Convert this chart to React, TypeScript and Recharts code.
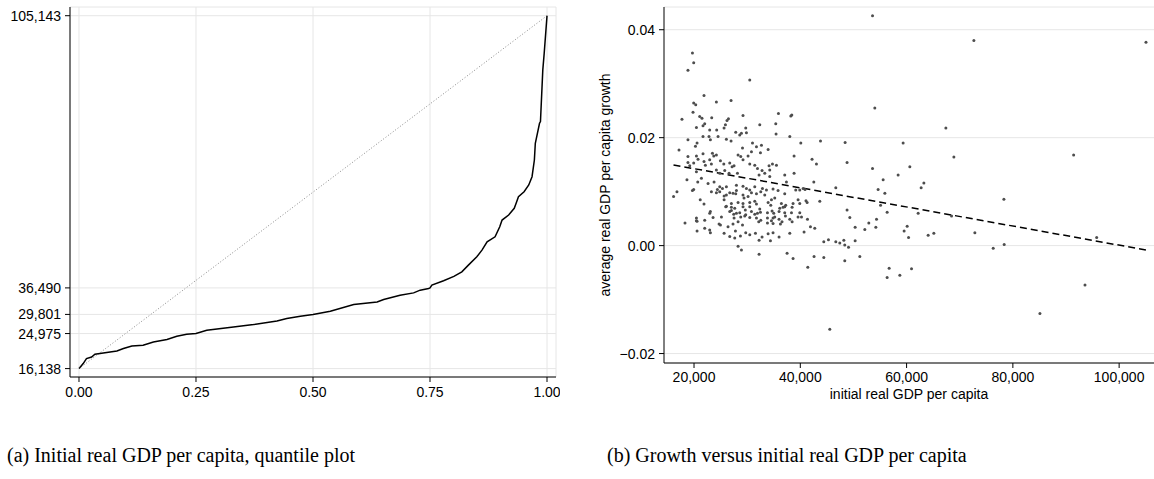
import React from 'react';
import {
  ComposedChart,
  Line,
  XAxis,
  YAxis,
  CartesianGrid,
  ScatterChart,
  Scatter,
  ReferenceLine,
} from 'recharts';

// ---------- Panel (a): quantile plot ----------
const quantileFractions = [
  0.0, 0.002, 0.009, 0.016, 0.027, 0.034, 0.052, 0.081, 0.095, 0.113, 0.137, 0.159,
  0.188, 0.209, 0.23, 0.25, 0.273, 0.33, 0.373, 0.423, 0.444, 0.473, 0.5, 0.537, 0.587,
  0.637, 0.651, 0.686, 0.715, 0.729, 0.747, 0.75, 0.754, 0.779, 0.801, 0.818, 0.832,
  0.85, 0.861, 0.872, 0.889, 0.899, 0.904, 0.918, 0.93, 0.934, 0.939, 0.951, 0.961,
  0.968, 0.973, 0.975, 0.984, 0.986, 0.991, 0.994, 1.0,
];
const quantileValues = [
  16138, 16390, 17400, 18664, 19068, 19750, 20079, 20584, 21190, 21847, 22023, 22857,
  23464, 24297, 24802, 24975, 25813, 26646, 27253, 28162, 28768, 29349, 29801, 30612,
  32305, 32961, 33568, 34653, 35234, 35916, 36346, 36490, 37180, 38300, 39400, 40540,
  42234, 44328, 46021, 48117, 49380, 51906, 53599, 54862, 56554, 57817, 59484, 60747,
  62440, 64536, 68755, 72973, 78025, 78430, 91488, 95707, 105143,
];
const referenceFractions = [0, 1];
const referenceValues = [16138, 105143];
const quantileTicksX = [0, 0.25, 0.5, 0.75, 1];
const quantileTicksY = [16138, 24975, 29801, 36490, 105143];

// ---------- Panel (b): growth vs initial GDP ----------
const scatterPoints: [number, number][] = [
  [19700, 0.0357], [19940, 0.0339], [18860, 0.0325], [30490, 0.0307], [21880, 0.0278],
  [19940, 0.0264], [20320, 0.0261], [24210, 0.0266], [26970, 0.0269], [19810, 0.0247],
  [35890, 0.0245], [38400, 0.0242], [38210, 0.024], [29220, 0.0241], [17730, 0.0234],
  [21070, 0.0239], [21500, 0.0236], [23330, 0.0237], [26480, 0.0235], [26210, 0.0232],
  [20450, 0.0219], [21690, 0.0222], [22010, 0.0226], [22950, 0.0214], [24270, 0.0214],
  [25910, 0.0224], [25650, 0.0218], [27850, 0.021], [29730, 0.0218], [29860, 0.0209],
  [32370, 0.0224], [35380, 0.0226], [35440, 0.0207], [38020, 0.0202], [21690, 0.0202],
  [22820, 0.0202], [24520, 0.0202], [28600, 0.0205], [28920, 0.0208], [18860, 0.0196],
  [20570, 0.019], [20270, 0.0184], [23080, 0.0196], [26090, 0.0197], [26970, 0.0194],
  [31000, 0.019], [32690, 0.0186], [31750, 0.0183], [33940, 0.0178], [40090, 0.019],
  [43800, 0.0194], [48430, 0.0191], [17170, 0.0177], [29120, 0.0181], [30810, 0.0174],
  [32500, 0.0172], [21690, 0.017], [23460, 0.0171], [23710, 0.0166], [24210, 0.0168],
  [18860, 0.0165], [20450, 0.0166], [20750, 0.016], [28790, 0.0165], [30170, 0.0166],
  [38830, 0.0166], [43040, 0.0151], [42210, 0.016], [48800, 0.0154], [18860, 0.0154],
  [19190, 0.0148], [19940, 0.0153], [21880, 0.0156], [22140, 0.0149], [22950, 0.0159],
  [23270, 0.0151], [24970, 0.0157], [25600, 0.0151], [26720, 0.0153], [27160, 0.0146],
  [27530, 0.0148], [29220, 0.0159], [28290, 0.0168], [30490, 0.0151], [31430, 0.0149],
  [31940, 0.0143], [32800, 0.0139], [34120, 0.0148], [34760, 0.0151], [35510, 0.0149],
  [34250, 0.014], [33310, 0.0134], [32240, 0.0131], [34250, 0.0128], [37070, 0.0131],
  [38830, 0.0134], [42540, 0.0118], [46680, 0.0107], [40530, 0.0106], [37390, 0.0118],
  [20450, 0.0137], [24210, 0.014], [24840, 0.0134], [25780, 0.0139], [26590, 0.0134],
  [28170, 0.0134], [18670, 0.0122], [19940, 0.0104], [19700, 0.0102], [21390, 0.0125],
  [23770, 0.0118], [22640, 0.0115], [24400, 0.0104], [24840, 0.0109], [25350, 0.0106],
  [26090, 0.0109], [27980, 0.0112], [29220, 0.011], [29860, 0.0106], [30490, 0.0103],
  [31430, 0.0109], [32880, 0.0106], [33630, 0.0103], [34870, 0.0105], [35810, 0.0102],
  [16790, 0.01], [16150, 0.0091], [23270, 0.01], [26720, 0.0098], [27850, 0.0096],
  [39900, 0.0103], [53590, 0.0426], [72660, 0.038], [105050, 0.0377], [54020, 0.0255],
  [67390, 0.0218], [59350, 0.019], [68900, 0.0164], [91440, 0.0168], [53590, 0.0143],
  [60610, 0.0146], [58410, 0.0131], [55590, 0.0122], [63250, 0.0116], [62740, 0.0107],
  [54640, 0.0104], [55910, 0.0097], [78310, 0.0086], [56340, 0.0062], [62180, 0.006],
  [55100, 0.0075], [54340, 0.0049], [52890, 0.0042], [54210, 0.0034], [52140, 0.003],
  [68460, 0.0055], [60110, 0.0036], [59540, 0.0027], [60370, 0.0015], [64060, 0.0019],
  [65130, 0.0023], [72850, 0.0024], [95770, 0.0015], [76300, -0.0005], [78370, 0.0002],
  [51200, -0.002], [56720, -0.0042], [60930, -0.0043], [56340, -0.0059], [58730, -0.0055],
  [93570, -0.0073], [85090, -0.0126], [18300, 0.0042], [20450, 0.0051], [20450, 0.0046],
  [22010, 0.0047], [23080, 0.0063], [22950, 0.006], [23580, 0.0052], [22010, 0.0032],
  [23080, 0.0024], [25160, 0.0053], [24970, 0.0038], [25970, 0.0072], [27030, 0.0071],
  [27030, 0.0065], [27470, 0.0058], [27340, 0.004], [27790, 0.0027], [28730, 0.0018],
  [29120, 0.0038], [28290, -0.0001], [28920, -0.0008], [28600, 0.0061], [29220, 0.0072],
  [29730, 0.0057], [30490, 0.0052], [31430, 0.0058], [31750, 0.0051], [31940, 0.006],
  [32500, 0.0062], [32240, 0.001], [32800, 0.0016], [32240, -0.0016], [33820, 0.0042],
  [34570, 0.0046], [34870, 0.0051], [34380, 0.0009], [35000, 0.006], [36000, 0.0063],
  [36000, 0.0049], [36260, 0.004], [36760, 0.0071], [37260, 0.0075], [37510, -0.0014],
  [38020, 0.0049], [38340, 0.0061], [38640, -0.0024], [39580, 0.0053], [39900, 0.0078],
  [40710, 0.0025], [41280, 0.008], [41410, -0.004], [41910, 0.0035], [42590, -0.002],
  [42720, 0.0032], [43670, 0.0082], [44420, 0.0007], [44420, -0.0022], [45300, 0.0011],
  [46680, 0.0007], [47430, 0.0005], [48190, 0.001], [48370, 0.0001], [49070, -0.0003],
  [48800, 0.0066], [49320, 0.0052], [50320, 0.0034], [50320, 0.0009], [48370, -0.0028],
  [45550, -0.0155], [24210, 0.0098], [24840, 0.01], [25660, 0.0092], [26090, 0.0094],
  [27340, 0.0097], [27980, 0.0102], [29220, 0.0094], [29410, 0.0088], [30170, 0.0091],
  [30810, 0.0098], [31750, 0.0096], [32560, 0.01], [33310, 0.0094], [34570, 0.0085],
  [35190, 0.0088], [37070, 0.0096], [39140, 0.0103], [40890, 0.0104], [21170, 0.0085],
  [21880, 0.0077], [25660, 0.0085], [26090, 0.0073], [27030, 0.0078], [28290, 0.008],
  [29220, 0.0078], [30490, 0.008], [31430, 0.0082], [31750, 0.0077], [33940, 0.008],
  [34440, 0.0075], [36440, 0.0078], [38640, 0.0078], [39580, 0.0085], [41070, 0.0083],
  [20700, 0.0118], [20570, 0.0045], [24710, 0.004], [27660, 0.0069], [26720, 0.0063],
  [27980, 0.006], [29650, 0.0066], [30490, 0.0072], [30810, 0.0063], [32370, 0.0068],
  [33820, 0.0061], [34690, 0.0064], [36130, 0.0069], [37070, 0.0072], [38460, 0.0071],
  [27540, 0.0051], [28290, 0.0044], [28790, 0.0053], [29540, 0.0055], [32560, 0.0047],
  [32180, 0.0044], [33820, 0.0051], [35190, 0.0053], [34870, 0.0041], [37070, 0.0061],
  [37200, 0.0055], [36560, 0.0044], [38460, 0.0044], [39900, 0.0061], [40220, 0.0053],
  [41350, 0.0049], [20570, 0.0027], [22950, 0.0029], [26400, 0.0035], [25660, 0.0023],
  [26720, 0.0017], [27660, 0.0014], [29730, 0.0024], [30490, 0.002], [31560, 0.0023],
  [33940, 0.0022], [34870, 0.0024], [36000, 0.0016], [38020, 0.0023],
];
const fitLineX = [16138, 105143];
const fitLineY = [0.01494, -0.00083];
const scatterTicksX = [20000, 40000, 60000, 80000, 100000];
const scatterTicksY = [-0.02, 0, 0.02, 0.04];

const captionA = '(a) Initial real GDP per capita, quantile plot';
const captionB = '(b) Growth versus initial real GDP per capita';
const yLabelB = 'average real GDP per capita growth';
const xLabelB = 'initial real GDP per capita';

// ---------- derived data ----------
const quantileData = quantileFractions.map((f, i) => ({ f, v: quantileValues[i] }));
const referenceData = referenceFractions.map((f, i) => ({ f, v: referenceValues[i] }));
const scatterData = scatterPoints.map(([x, y]) => ({ x, y }));
const fitSegment = fitLineX.map((x, i) => ({ x, y: fitLineY[i] }));

const SANS = '"Liberation Sans", Arial, Helvetica, sans-serif';
const tickStyle = { fill: '#000', fontSize: 14, fontFamily: SANS };

const commas = (v: number) => String(Math.round(v)).replace(/\B(?=(\d{3})+(?!\d))/g, ',');
const twoDec = (v: number) => (v < 0 ? '\u2212' + Math.abs(v).toFixed(2) : v.toFixed(2));

const Dot = (props: any) => {
  const { cx, cy } = props;
  if (cx == null || cy == null) return null;
  return <circle cx={cx} cy={cy} r={1.5} fill="#4d4d4d" />;
};

const YLabel = (props: any) => {
  const vb = props.viewBox || { x: 0, y: 7, width: 84, height: 356 };
  const cx = vb.x + 25;
  const cy = vb.y + vb.height / 2;
  return (
    <text
      x={cx}
      y={cy}
      transform={`rotate(-90 ${cx} ${cy})`}
      textAnchor="middle"
      dominantBaseline="central"
      fontSize={14}
      fontFamily={SANS}
      fill="#000"
    >
      {yLabelB}
    </text>
  );
};

const XLabel = (props: any) => {
  const vb = props.viewBox || { x: 84, y: 363, width: 490, height: 50 };
  const cx = vb.x + vb.width / 2;
  const y = vb.y + 36;
  return (
    <text x={cx} y={y} textAnchor="middle" fontSize={14} fontFamily={SANS} fill="#000">
      {xLabelB}
    </text>
  );
};

export default function App() {
  return (
    <div
      style={{
        position: 'absolute',
        left: 0,
        top: 0,
        width: 1154,
        height: 479,
        background: '#fff',
        overflow: 'hidden',
      }}
    >
      <div style={{ position: 'absolute', left: 0, top: 0 }}>
        <ComposedChart width={560} height={420} margin={{ top: 7, right: 4, bottom: 13, left: 10 }}>
          <CartesianGrid stroke="#e6e6e6" strokeWidth={1} />
          <XAxis
            type="number"
            dataKey="f"
            domain={[-0.0192, 1.0192]}
            ticks={quantileTicksX}
            interval={0}
            tickFormatter={(v: number) => v.toFixed(2)}
            allowDataOverflow
            stroke="#000"
            tick={tickStyle}
            tickSize={5}
            tickMargin={5}
            height={30}
          />
          <YAxis
            type="number"
            dataKey="v"
            domain={[14016, 107341]}
            ticks={quantileTicksY}
            interval={0}
            tickFormatter={commas}
            allowDataOverflow
            stroke="#000"
            tick={tickStyle}
            tickSize={5}
            tickMargin={4}
            width={60}
          />
          <Line
            data={referenceData}
            dataKey="v"
            type="linear"
            stroke="#8a8a8a"
            strokeWidth={1}
            strokeDasharray="1 2"
            dot={false}
            activeDot={false}
            isAnimationActive={false}
          />
          <Line
            data={quantileData}
            dataKey="v"
            type="linear"
            stroke="#000"
            strokeWidth={1.5}
            dot={false}
            activeDot={false}
            isAnimationActive={false}
          />
        </ComposedChart>
      </div>

      <div style={{ position: 'absolute', left: 580, top: 0 }}>
        <ScatterChart width={574} height={420} margin={{ top: 7, right: 0, bottom: 7, left: 0 }}>
          <CartesianGrid vertical={false} stroke="#e6e6e6" strokeWidth={1} />
          <XAxis
            type="number"
            dataKey="x"
            domain={[14350, 106560]}
            ticks={scatterTicksX}
            interval={0}
            tickFormatter={commas}
            allowDataOverflow
            stroke="#000"
            tick={tickStyle}
            tickSize={5}
            tickMargin={4}
            height={50}
            label={<XLabel />}
          />
          <YAxis
            type="number"
            dataKey="y"
            domain={[-0.02175, 0.04421]}
            ticks={scatterTicksY}
            interval={0}
            tickFormatter={twoDec}
            allowDataOverflow
            stroke="#000"
            tick={tickStyle}
            tickSize={5}
            tickMargin={4}
            width={84}
            label={<YLabel />}
          />
          <ReferenceLine
            segment={fitSegment}
            stroke="#000"
            strokeWidth={1.5}
            strokeDasharray="7 4"
            ifOverflow="visible"
          />
          <Scatter data={scatterData} shape={Dot} isAnimationActive={false} />
        </ScatterChart>
      </div>

      <div
        style={{
          position: 'absolute',
          left: 7,
          top: 444,
          fontFamily: '"Liberation Serif", "Times New Roman", serif',
          fontSize: 20,
          lineHeight: '22px',
          whiteSpace: 'nowrap',
          color: '#000',
        }}
      >
        {captionA}
      </div>
      <div
        style={{
          position: 'absolute',
          left: 607,
          top: 444,
          fontFamily: '"Liberation Serif", "Times New Roman", serif',
          fontSize: 20,
          lineHeight: '22px',
          whiteSpace: 'nowrap',
          color: '#000',
        }}
      >
        {captionB}
      </div>
    </div>
  );
}
